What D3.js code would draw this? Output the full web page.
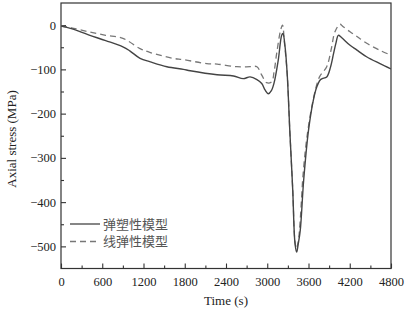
<!DOCTYPE html>
<html><head><meta charset="utf-8">
<script src="https://cdn.jsdelivr.net/npm/d3@7"></script>
<style>body{margin:0;background:#fff}svg{display:block}</style>
</head><body>
<svg id="c" width="406" height="314"></svg>
<script>
const xTicks = [0,600,1200,1800,2400,3000,3600,4200,4800];
const yTicks = [0,-100,-200,-300,-400,-500];
const seriesNames = ["弹塑性模型","线弹性模型"];
const solidT = [0,150,400,650,900,1000,1150,1300,1540,1780,1880,2270,2510,2650,2750,2850,2920,2970,3016,3060,3100,3160,3210,3228,3260,3290,3330,3370,3404,3428,3450,3480,3530,3600,3670,3720,3770,3800,3865,3920,3965,4000,4034,4080,4200,4300,4450,4640,4800];
const solidV = [-2,-8,-22,-35,-49,-58,-75,-83,-94,-100,-103,-112,-115,-121,-117,-123,-132,-147,-155,-148,-130,-79,-23,-19,-50,-110,-245,-370,-494,-513,-495,-464,-350,-238,-170,-140,-124,-121,-117,-95,-64,-40,-23,-28,-45,-56,-72,-87,-99];
const dashT = [0,150,400,650,900,1150,1300,1630,1780,2120,2270,2556,2750,2850,2920,2990,3064,3100,3137,3195,3222,3250,3290,3330,3370,3404,3425,3450,3480,3520,3580,3680,3760,3865,3930,3985,4058,4100,4204,4300,4447,4640,4800];
const dashV = [-2,-6,-15,-23,-30,-53,-62,-75,-78,-87,-88,-94,-94,-94,-113,-130,-128,-105,-64,-11,0,-40,-110,-245,-370,-490,-505,-490,-440,-340,-250,-160,-117,-94,-55,-15,2,-3,-15,-25,-41,-57,-68];

const svg = d3.select("#c");
const L=61, R=391, T=3, B=268.5;
const x = d3.scaleLinear().domain([0,4800]).range([L,R]);
const y = d3.scaleLinear().domain([-550,50]).range([B,T]);
const axisColor="#333", font="'Liberation Serif','Times New Roman',serif";

// frame
svg.append("rect").attr("x",L).attr("y",T).attr("width",R-L).attr("height",B-T)
  .attr("fill","none").attr("stroke",axisColor).attr("stroke-width",1.2);

// x axis
const xMinor = d3.range(300,4800,600);
const gx = svg.append("g").attr("transform",`translate(0,${B})`)
  .call(d3.axisBottom(x).tickValues(xTicks).tickSize(-5).tickPadding(9).tickFormat(d3.format("d")));
gx.select(".domain").remove();
svg.append("g").attr("transform",`translate(0,${B})`)
  .call(d3.axisBottom(x).tickValues(xMinor).tickSize(-3).tickFormat(""))
  .select(".domain").remove();
// y axis
const yMinor = d3.range(-550,50,100).map(v=>v+100).filter(v=>v<50);
const gy = svg.append("g").attr("transform",`translate(${L},0)`)
  .call(d3.axisLeft(y).tickValues(yTicks).tickSize(-5).tickPadding(5).tickFormat(d=>d<0?"\u2212"+Math.abs(d):d));
gy.select(".domain").remove();
svg.append("g").attr("transform",`translate(${L},0)`)
  .call(d3.axisLeft(y).tickValues([-450,-350,-250,-150,-50]).tickSize(-3).tickFormat(""))
  .select(".domain").remove();
svg.selectAll(".tick line").attr("stroke",axisColor).attr("stroke-width",1.1);
svg.selectAll(".tick text").attr("font-family",font).attr("font-size","12.5px").attr("fill","#222");

// titles
svg.append("text").attr("x",(L+R)/2).attr("y",305).attr("text-anchor","middle")
  .attr("font-family",font).attr("font-size","13px").attr("fill","#222").text("Time (s)");
svg.append("text").attr("transform","translate(16,139) rotate(-90)").attr("text-anchor","middle")
  .attr("font-family",font).attr("font-size","13px").attr("fill","#222").text("Axial stress (MPa)");

// clip
svg.append("clipPath").attr("id","cp").append("rect").attr("x",L).attr("y",T).attr("width",R-L).attr("height",B-T);
const line = d3.line().x(d=>x(d[0])).y(d=>y(d[1])).curve(d3.curveCatmullRom.alpha(0.5));
const dashData = dashT.map((t,i)=>[t,dashV[i]]);
const solidData = solidT.map((t,i)=>[t,solidV[i]]);
svg.append("path").datum(dashData).attr("d",line).attr("fill","none").attr("stroke","#777")
  .attr("stroke-width",1.3).attr("stroke-dasharray","6,4").attr("clip-path","url(#cp)");
svg.append("path").datum(solidData).attr("d",line).attr("fill","none").attr("stroke","#444")
  .attr("stroke-width",1.4).attr("clip-path","url(#cp)");

// legend
const leg = [{n:seriesNames[0],c:"#444",d:null,y:224},{n:seriesNames[1],c:"#777",d:"6,4",y:241.5}];
leg.forEach(l=>{
  svg.append("line").attr("x1",70).attr("x2",100).attr("y1",l.y).attr("y2",l.y)
    .attr("stroke",l.c).attr("stroke-width",1.3).attr("stroke-dasharray",l.d);
  svg.append("text").attr("x",103).attr("y",l.y+4.5).attr("font-family","'Noto Sans CJK SC',sans-serif")
    .attr("font-size","13px").attr("fill","#555").text(l.n);
});
</script>
</body></html>
